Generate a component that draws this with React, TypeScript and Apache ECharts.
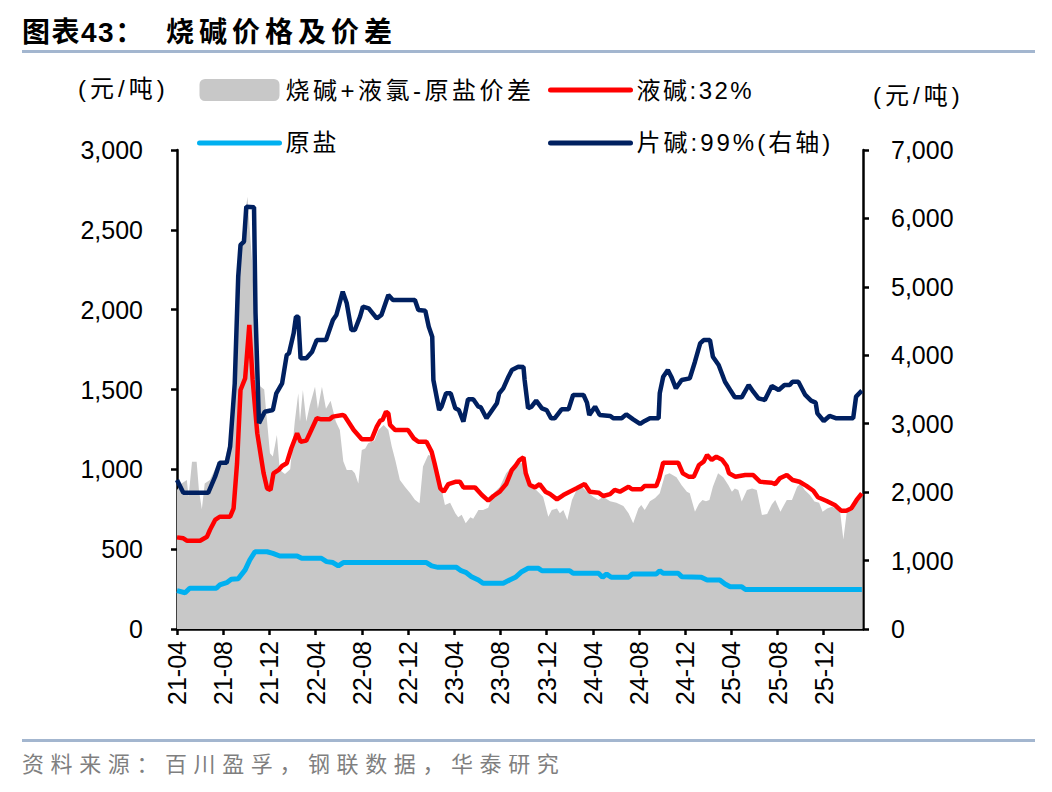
import React, { useEffect, useRef } from "react";
import * as echarts from "echarts";

const spread: [number, number][] = [
  [0, 870], [0.4, 912], [0.85, 933], [1.0, 829], [1.3, 1048], [1.7, 1048], [1.9, 871], [2.15, 750],
  [2.4, 912], [2.85, 933], [3.4, 1017], [4.15, 1060], [4.75, 1250], [5.2, 1900], [5.6, 2436], [6.1, 2707],
  [6.5, 2300], [6.85, 1800], [7.2, 1520], [7.55, 1500], [7.8, 1300], [8.05, 1100], [8.3, 1080], [8.65, 1215],
  [8.9, 996], [9.35, 970], [9.8, 1000], [10.2, 1300], [10.5, 1476], [10.65, 1300], [10.9, 1497], [11.2, 1300],
  [11.5, 1400], [11.95, 1517], [12.2, 1380], [12.55, 1517], [12.9, 1380], [13.3, 1430], [13.75, 1300], [14.1, 1246],
  [14.4, 1050], [14.7, 996], [15.15, 996], [15.4, 975], [15.7, 912], [16.0, 1121], [16.3, 1130], [16.55, 1163],
  [17.1, 1180], [17.45, 1246], [17.9, 1278], [18.3, 1246], [18.6, 1142], [18.9, 1058], [19.3, 933], [19.75, 890],
  [20.2, 850], [20.6, 810], [21.0, 787], [21.3, 1017], [21.75, 1090], [22.2, 1080], [22.5, 996], [22.8, 912],
  [23.2, 777], [23.65, 790], [24.1, 725], [24.35, 700], [24.65, 715], [25.0, 662], [25.4, 700], [25.65, 690],
  [26.1, 745], [26.5, 745], [26.95, 760], [27.4, 850], [27.95, 890], [28.5, 975], [29.1, 1027], [29.4, 1040],
  [30.0, 1038], [30.55, 891], [31.1, 870], [31.7, 829], [32.15, 703], [32.45, 745], [32.9, 755], [33.15, 725],
  [33.45, 745], [33.8, 683], [34.2, 808], [34.6, 870], [35.05, 891], [35.5, 860], [36.05, 829], [36.5, 808],
  [36.9, 829], [37.5, 800], [38.05, 790], [38.65, 770], [39.1, 725], [39.5, 662], [39.95, 755], [40.2, 777],
  [40.5, 745], [40.95, 800], [41.4, 820], [41.8, 850], [42.25, 964], [42.65, 975], [43.25, 950], [43.7, 900],
  [44.15, 860], [44.4, 850], [44.85, 735], [45.2, 785], [45.5, 808], [45.8, 800], [46.1, 808], [46.4, 891],
  [46.85, 975], [47.3, 950], [47.75, 900], [48.05, 860], [48.3, 880], [48.6, 870], [48.9, 798], [49.35, 870],
  [49.8, 880], [50.2, 870], [50.65, 714], [51.1, 720], [51.5, 780], [51.8, 808], [52.25, 735], [52.55, 775],
  [52.8, 808], [53.25, 808], [53.7, 891], [54.0, 912], [54.35, 870], [54.8, 840], [55.2, 798], [55.6, 790],
  [55.9, 735], [56.3, 755], [56.7, 765], [57.1, 755], [57.4, 745], [57.7, 560], [58.0, 735], [58.55, 745],
  [59.0, 808], [59.35, 850],
];

const liquidCaustic: [number, number][] = [
  [0, 574], [0.55, 568], [0.85, 553], [2.0, 553], [2.6, 578], [2.85, 620], [3.3, 683], [3.7, 703],
  [4.6, 703], [4.9, 756], [5.2, 1038], [5.5, 1497], [5.9, 1570], [6.26, 1904], [6.55, 1560], [6.95, 1226],
  [7.5, 975], [7.8, 881], [8.1, 871], [8.35, 975], [8.8, 996], [9.1, 1021], [9.5, 1038], [9.9, 1132],
  [10.4, 1226], [10.7, 1173], [11.2, 1180], [11.5, 1226], [12.1, 1320], [12.5, 1313], [13.2, 1313], [13.5, 1330],
  [14.35, 1340], [14.5, 1335], [15.3, 1246], [16.0, 1188], [16.85, 1188], [17.3, 1267], [17.6, 1305], [17.8, 1310],
  [18.1, 1361], [18.3, 1350], [18.45, 1278], [18.9, 1246], [20.0, 1246], [20.5, 1194], [20.9, 1173], [21.6, 1173],
  [22.05, 1110], [22.3, 1038], [22.8, 881], [23.1, 860], [23.5, 908], [24.1, 922], [24.5, 922], [24.8, 887],
  [25.8, 887], [26.4, 839], [26.95, 804], [27.4, 833], [27.95, 860], [28.5, 908], [29.0, 996], [29.3, 1021],
  [29.65, 1058], [30.0, 1075], [30.2, 975], [30.55, 902], [31.0, 887], [31.4, 908], [31.9, 860], [32.3, 845],
  [32.9, 812], [33.45, 839], [34.0, 860], [34.6, 881], [35.3, 908], [35.75, 860], [36.5, 854], [36.9, 833],
  [37.5, 845], [37.9, 871], [38.35, 860], [39.1, 891], [39.4, 875], [40.2, 875], [40.5, 896], [41.5, 896],
  [41.75, 944], [42.1, 1042], [43.4, 1042], [43.8, 975], [44.3, 954], [44.75, 954], [45.2, 1027], [45.6, 1048],
  [45.9, 1090], [46.3, 1059], [46.7, 1079], [47.2, 1060], [47.6, 1021], [47.8, 975], [48.35, 954], [49.2, 964],
  [49.9, 964], [50.5, 922], [51.5, 916], [51.8, 908], [52.2, 944], [52.8, 964], [53.3, 933], [53.9, 922],
  [54.5, 896], [55.1, 866], [55.5, 825], [56.25, 802], [56.95, 777], [57.5, 741], [57.95, 741], [58.4, 756],
  [58.85, 808], [59.3, 850],
];

const rawSalt: [number, number][] = [
  [0, 240], [0.7, 227], [1.1, 255], [3.4, 255], [3.7, 276], [4.3, 290], [4.7, 311], [5.3, 315],
  [5.9, 370], [6.3, 432], [6.75, 484], [7.8, 484], [8.3, 474], [8.9, 457], [10.4, 457], [10.8, 443],
  [12.5, 443], [12.95, 422], [13.5, 416], [13.97, 395], [14.4, 416], [21.6, 416], [22.05, 395], [22.6, 386],
  [24.2, 386], [24.6, 365], [25.0, 355], [25.5, 328], [26.1, 307], [26.5, 286], [28.25, 286], [28.8, 307],
  [29.3, 324], [29.85, 359], [30.4, 380], [31.3, 380], [31.6, 365], [34.0, 365], [34.3, 349], [36.5, 349],
  [36.85, 324], [37.2, 344], [37.6, 324], [39.1, 324], [39.4, 344], [41.5, 344], [41.8, 365], [42.1, 349],
  [43.4, 349], [43.7, 328], [45.4, 324], [45.9, 307], [47.0, 307], [47.45, 282], [47.9, 265], [48.9, 265],
  [49.2, 248], [59.3, 248],
];

const flakeCaustic: [number, number][] = [
  [0, 2177], [0.55, 1990], [2.7, 1990], [3.3, 2226], [3.7, 2430], [4.3, 2430], [4.6, 2665], [5.0, 3590],
  [5.3, 5148], [5.5, 5612], [5.8, 5660], [6.0, 6172], [6.67, 6163], [6.8, 4613], [7.1, 3006], [7.6, 3176],
  [8.3, 3200], [8.6, 3444], [9.1, 3590], [9.5, 4004], [9.7, 4029], [10.1, 4321], [10.3, 4564], [10.5, 4564],
  [10.7, 3956], [11.2, 3956], [11.7, 4053], [12.1, 4223], [12.9, 4223], [13.5, 4516], [13.8, 4589], [14.35, 4930],
  [14.7, 4760], [15.1, 4370], [15.4, 4370], [15.85, 4564], [16.1, 4710], [16.6, 4686], [17.3, 4540], [17.7, 4589],
  [18.3, 4881], [18.7, 4808], [20.6, 4808], [20.9, 4662], [21.5, 4650], [21.8, 4418], [22.1, 4272], [22.2, 3639],
  [22.7, 3200], [22.9, 3249], [23.3, 3444], [23.7, 3444], [24.1, 3225], [24.4, 3200], [24.8, 3030], [25.2, 3357],
  [25.65, 3357], [26.1, 3249], [26.3, 3240], [26.8, 3079], [27.4, 3225], [27.7, 3298], [27.9, 3444], [28.25, 3517],
  [28.7, 3687], [29.0, 3785], [29.55, 3833], [30.0, 3830], [30.1, 3639], [30.4, 3225], [30.7, 3249], [31.1, 3337],
  [31.6, 3225], [32.0, 3200], [32.4, 3079], [32.7, 3079], [33.3, 3210], [33.9, 3210], [34.3, 3420], [35.2, 3420],
  [35.5, 3308], [35.7, 3127], [36.2, 3249], [36.6, 3127], [37.5, 3113], [37.8, 3079], [38.5, 3079], [38.9, 3137],
  [39.5, 3064], [40.1, 2996], [40.5, 3040], [40.95, 3079], [41.7, 3079], [41.8, 3444], [42.1, 3687], [42.5, 3785],
  [42.8, 3687], [43.2, 3517], [43.7, 3639], [44.4, 3663], [44.85, 3906], [45.3, 4175], [45.6, 4223], [46.15, 4223],
  [46.4, 3979], [46.9, 3858], [47.45, 3614], [47.9, 3493], [48.3, 3386], [48.9, 3386], [49.5, 3566], [49.9, 3468],
  [50.35, 3371], [50.9, 3347], [51.5, 3551], [52.1, 3493], [52.6, 3566], [53.05, 3566], [53.3, 3614], [53.8, 3614],
  [54.4, 3420], [54.9, 3337], [55.3, 3308], [55.45, 3152], [56.0, 3040], [56.5, 3113], [57.1, 3079], [58.55, 3079],
  [58.8, 3396], [59.3, 3483],
];

const seriesNames = ["烧碱+液氯-原盐价差", "液碱:32%", "原盐", "片碱:99%(右轴)"];
const unitLabel = "(元/吨)";
const titleNo = "图表43：";
const titleText = "烧碱价格及价差";
const sourceText = "资料来源：百川盈孚，钢联数据，华泰研究";

const xMonthStep = 4;
const xMonthMax = 59.4;
const startYear = 21;
const startMonth = 4;

const FONT = "'Liberation Sans', Arial, 'Noto Sans CJK SC', sans-serif";
const RULE = "#A3B6CF";

const fmtMonth = (t: number) => {
  const m = startMonth - 1 + Math.round(t);
  const yy = startYear + Math.floor(m / 12);
  const mm = (m % 12) + 1;
  return `${yy}-${String(mm).padStart(2, "0")}`;
};
const fmtThousands = (v: number) => v.toLocaleString("en-US");

const letterSpacing: Record<string, number> = {
  [titleNo]: 1.5,
  [titleText]: 5,
  [sourceText]: 6.6,
  [unitLabel]: 4,
  [seriesNames[0]]: 3.5,
  [seriesNames[1]]: 2.5,
  [seriesNames[2]]: 3,
  [seriesNames[3]]: 3,
};

export default function App() {
  const ref = useRef<HTMLDivElement>(null);
  useEffect(() => {
    if (!ref.current) return;
    const el = ref.current;
    const chart = echarts.init(el, undefined, { renderer: "svg" });
    const axisLine = { show: true, lineStyle: { color: "#000", width: 2.5 } };
    const axisTick = { show: true, length: 6, lineStyle: { color: "#000", width: 2.5 } };
    const legendText = { fontSize: 24, color: "#000", fontFamily: FONT, padding: [0, 0, 0, 1] };
    const hiddenMarker = { opacity: 0 };
    chart.setOption({
      animation: false,
      backgroundColor: "#fff",
      grid: { left: 177, right: 189, top: 150, bottom: 163, containLabel: false },
      legend: [
        {
          left: 197, top: 78, padding: 0, orient: "vertical", itemWidth: 80, itemHeight: 22, itemGap: 29,
          selectedMode: false, textStyle: legendText,
          lineStyle: { width: 5, cap: "round" },
          data: [
            { name: seriesNames[0], icon: "roundRect" },
            { name: seriesNames[2], itemStyle: hiddenMarker },
          ],
        },
        {
          left: 548, top: 78, padding: 0, orient: "vertical", itemWidth: 80, itemHeight: 22, itemGap: 29,
          selectedMode: false, textStyle: legendText,
          lineStyle: { width: 5, cap: "round" },
          data: [
            { name: seriesNames[1], itemStyle: hiddenMarker },
            { name: seriesNames[3], itemStyle: hiddenMarker },
          ],
        },
      ],
      xAxis: {
        type: "value", min: 0, max: xMonthMax, interval: xMonthStep,
        axisLine, axisTick, splitLine: { show: false },
        axisLabel: {
          rotate: 90, margin: 12, fontSize: 25, color: "#000", fontFamily: FONT,
          showMaxLabel: false, formatter: (v: number) => fmtMonth(v),
        },
      },
      yAxis: [
        {
          type: "value", min: 0, max: 3000, interval: 500, position: "left",
          axisLine, axisTick, splitLine: { show: false },
          axisLabel: { margin: 34, fontSize: 25, color: "#000", fontFamily: FONT, formatter: fmtThousands },
        },
        {
          type: "value", min: 0, max: 7000, interval: 1000, position: "right",
          axisLine, axisTick, splitLine: { show: false },
          axisLabel: { margin: 28, fontSize: 25, color: "#000", fontFamily: FONT, formatter: fmtThousands },
        },
      ],
      series: [
        {
          name: seriesNames[0], type: "line", data: spread, yAxisIndex: 0, symbol: "none",
          lineStyle: { width: 0 }, itemStyle: { color: "#C8C8C8" },
          areaStyle: { color: "#C8C8C8", opacity: 1 }, z: 1,
        },
        {
          name: seriesNames[2], type: "line", data: rawSalt, yAxisIndex: 0, symbol: "none",
          lineStyle: { width: 5, color: "#00B0F0" }, itemStyle: { color: "#00B0F0" }, z: 2,
        },
        {
          name: seriesNames[1], type: "line", data: liquidCaustic, yAxisIndex: 0, symbol: "none",
          lineStyle: { width: 4.5, color: "#FF0000" }, itemStyle: { color: "#FF0000" }, z: 3,
        },
        {
          name: seriesNames[3], type: "line", data: flakeCaustic, yAxisIndex: 1, symbol: "none",
          lineStyle: { width: 4.5, color: "#002060" }, itemStyle: { color: "#002060" }, z: 4,
        },
      ],
      graphic: [
        { type: "text", left: 22, top: 18, style: { text: titleNo, font: `bold 28px ${FONT}`, fill: "#000" } },
        { type: "text", left: 166, top: 18, style: { text: titleText, font: `bold 28px ${FONT}`, fill: "#000" } },
        { type: "rect", shape: { x: 22, y: 50, width: 1013, height: 3 }, style: { fill: RULE } },
        { type: "text", left: 78, top: 76, style: { text: unitLabel, font: `24px ${FONT}`, fill: "#000" } },
        { type: "text", left: 873, top: 83, style: { text: unitLabel, font: `24px ${FONT}`, fill: "#000" } },
        { type: "rect", shape: { x: 22, y: 739, width: 1013, height: 3 }, style: { fill: RULE } },
        { type: "text", left: 22, top: 753, style: { text: sourceText, font: `22px ${FONT}`, fill: "#7F7F7F" } },
      ],
    });
    const applySpacing = () => {
      el.querySelectorAll("text").forEach((node) => {
        const s = letterSpacing[(node.textContent || "").trim()];
        if (s !== undefined) (node as SVGTextElement).style.letterSpacing = `${s}px`;
      });
    };
    applySpacing();
    chart.on("finished", applySpacing);
    return () => chart.dispose();
  }, []);
  return <div ref={ref} style={{ position: "fixed", left: 0, top: 0, width: 1052, height: 792 }} />;
}
